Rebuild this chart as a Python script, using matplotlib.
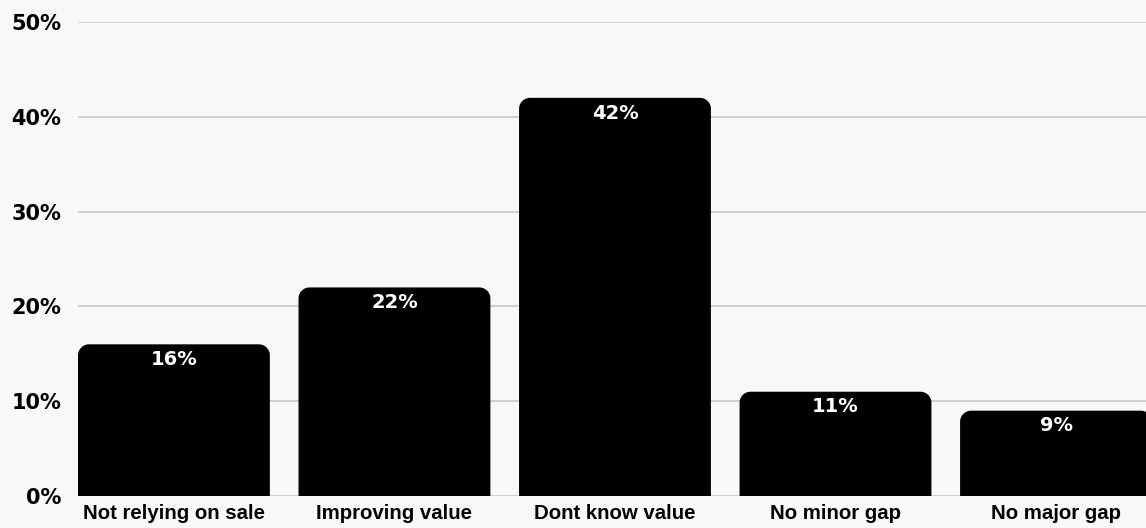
import matplotlib.pyplot as plt
from matplotlib.path import Path
from matplotlib.patches import PathPatch

categories = ['Not relying on sale', 'Improving value', 'Dont know value', 'No minor gap', 'No major gap']
values = [16, 22, 42, 11, 9]
y_ticks = [0, 10, 20, 30, 40, 50]

BG = '#f8f8f8'
GRID = '#c8c8c8'
NUM_FONT = 'DejaVu Sans'
LABEL_FONT = 'Liberation Sans'


def rounded_bar(ax, x, h, width, rx, ry, color='black'):
    """Bar with rounded top corners, radii given in data units"""
    k = 0.5523
    x0, x1 = x - width / 2, x + width / 2
    verts = [
        (x0, 0), (x0, h - ry),
        (x0, h - ry + k * ry), (x0 + rx - k * rx, h), (x0 + rx, h),
        (x1 - rx, h),
        (x1 - rx + k * rx, h), (x1, h - ry + k * ry), (x1, h - ry),
        (x1, 0), (x0, 0),
    ]
    codes = [Path.MOVETO, Path.LINETO,
             Path.CURVE4, Path.CURVE4, Path.CURVE4,
             Path.LINETO,
             Path.CURVE4, Path.CURVE4, Path.CURVE4,
             Path.LINETO, Path.CLOSEPOLY]
    ax.add_patch(PathPatch(Path(verts, codes), facecolor=color, edgecolor='none', zorder=3))


fig = plt.figure(figsize=(11.46, 5.28), dpi=100, facecolor=BG)
ax = fig.add_axes([78 / 1146, 32 / 528, 1 - 78 / 1146, 474 / 528])
ax.set_facecolor(BG)

bar_width = 0.87
# radius ~11px converted to data units
rx = 11 / 220.5
ry = 11 / 9.48
for i, v in enumerate(values):
    rounded_bar(ax, i, v, bar_width, rx, ry)
    ax.text(i, v - 1.6, f'{v}%', ha='center', va='center', color='white',
            fontsize=14, fontweight='bold', family=NUM_FONT, zorder=4)

ax.set_xlim(-0.435, 4.408)
ax.set_ylim(0, 50)
ax.set_yticks(y_ticks)
ax.set_yticklabels([f'{t}%' for t in y_ticks])
ax.set_xticks(range(len(categories)))
ax.set_xticklabels(categories)

for t in y_ticks:
    ax.axhline(t, color=GRID, linewidth=1.2, zorder=1)

for lbl in ax.get_yticklabels():
    lbl.set_fontfamily(NUM_FONT)
    lbl.set_fontweight('bold')
    lbl.set_fontsize(15)
for lbl in ax.get_xticklabels():
    lbl.set_fontfamily(LABEL_FONT)
    lbl.set_fontweight('bold')
    lbl.set_fontsize(14.7)

ax.tick_params(axis='y', length=0, pad=12, colors='black')
ax.tick_params(axis='x', length=0, pad=6, colors='black')
for s in ax.spines.values():
    s.set_visible(False)

fig.savefig('out.png', dpi=100, facecolor=BG)
